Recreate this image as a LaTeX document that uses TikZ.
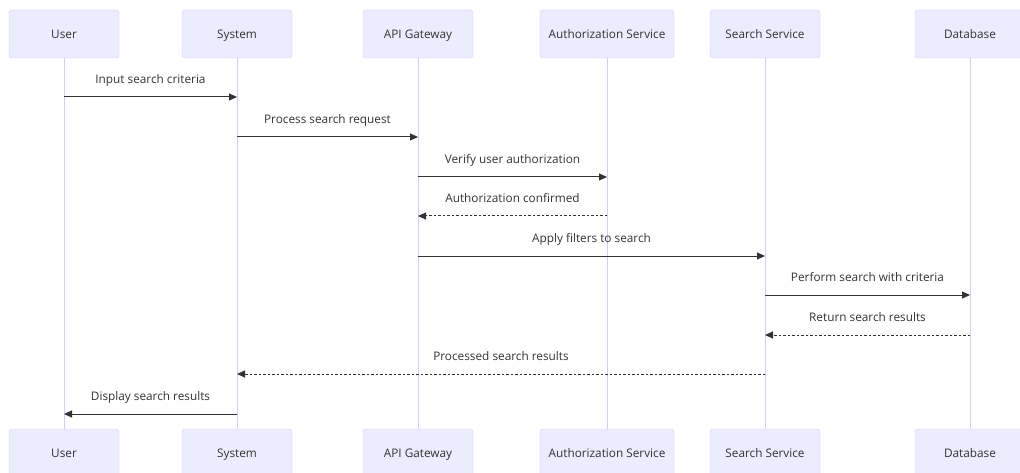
\documentclass[tikz,border=0pt]{standalone}
\usepackage{fontspec}
\setmainfont{Open Sans}
\usetikzlibrary{arrows.meta}
\definecolor{actorfill}{HTML}{ECECFF}
\definecolor{actorline}{HTML}{D7CCF2}
\definecolor{ink}{HTML}{333333}

\begin{document}
\begin{tikzpicture}[x=1pt,y=-1pt,
    actor/.style={draw=actorline,fill=actorfill,rounded corners=3pt,
      minimum width=110pt,minimum height=48pt,text=ink,text height=8.4pt,text depth=0pt,
      font=\fontsize{11.8}{14}\selectfont},
    life/.style={draw=actorline,line width=0.9pt},
    msg/.style={draw=ink,line width=1pt,-{Triangle[length=8pt,width=7pt]}},
    reply/.style={msg,dash pattern=on 2.5pt off 2pt},
    lbl/.style={text=ink,text height=8.4pt,text depth=0pt,font=\fontsize{11.8}{14}\selectfont}]
      \useasboundingbox (0,0) rectangle (1020,473);

      % participants, top row
      \node[actor](user) at (64,34) {User};
      \node[actor](system) at (237,34) {System};
      \node[actor](gateway) at (418,34) {API Gateway};
      \node[actor,minimum width=134pt](auth) at (607,34) {Authorization Service};
      \node[actor](search) at (765,34) {Search Service};
      \node[actor](db) at (970,34) {Database};

      % participants, bottom row
      \node[actor](userB) at (64,453) {User};
      \node[actor](systemB) at (237,453) {System};
      \node[actor](gatewayB) at (418,453) {API Gateway};
      \node[actor,minimum width=134pt](authB) at (607,453) {Authorization Service};
      \node[actor](searchB) at (765,453) {Search Service};
      \node[actor](dbB) at (970,453) {Database};

      % lifelines
      \draw[life] (user.south) -- (userB.north);
      \draw[life] (system.south) -- (systemB.north);
      \draw[life] (gateway.south) -- (gatewayB.north);
      \draw[life] (auth.south) -- (authB.north);
      \draw[life] (search.south) -- (searchB.north);
      \draw[life] (db.south) -- (dbB.north);

      % messages
      \draw[msg] (user |- 0,97) -- (system |- 0,97) node[midway,yshift=18pt,lbl]{Input search criteria};
      \draw[msg] (system |- 0,137) -- (gateway |- 0,137) node[midway,yshift=18pt,lbl]{Process search request};
      \draw[msg] (gateway |- 0,177) -- (auth |- 0,177) node[midway,yshift=18pt,lbl]{Verify user authorization};
      \draw[reply] (auth |- 0,216) -- (gateway |- 0,216) node[midway,yshift=18pt,lbl]{Authorization confirmed};
      \draw[msg] (gateway |- 0,256) -- (search |- 0,256) node[midway,yshift=18pt,lbl]{Apply filters to search};
      \draw[msg] (search |- 0,295) -- (db |- 0,295) node[midway,yshift=18pt,lbl]{Perform search with criteria};
      \draw[reply] (db |- 0,335) -- (search |- 0,335) node[midway,yshift=18pt,lbl]{Return search results};
      \draw[reply] (search |- 0,374) -- (system |- 0,374) node[midway,yshift=18pt,lbl]{Processed search results};
      \draw[msg] (system |- 0,414) -- (user |- 0,414) node[midway,yshift=18pt,lbl]{Display search results};
    \end{tikzpicture}
\end{document}
